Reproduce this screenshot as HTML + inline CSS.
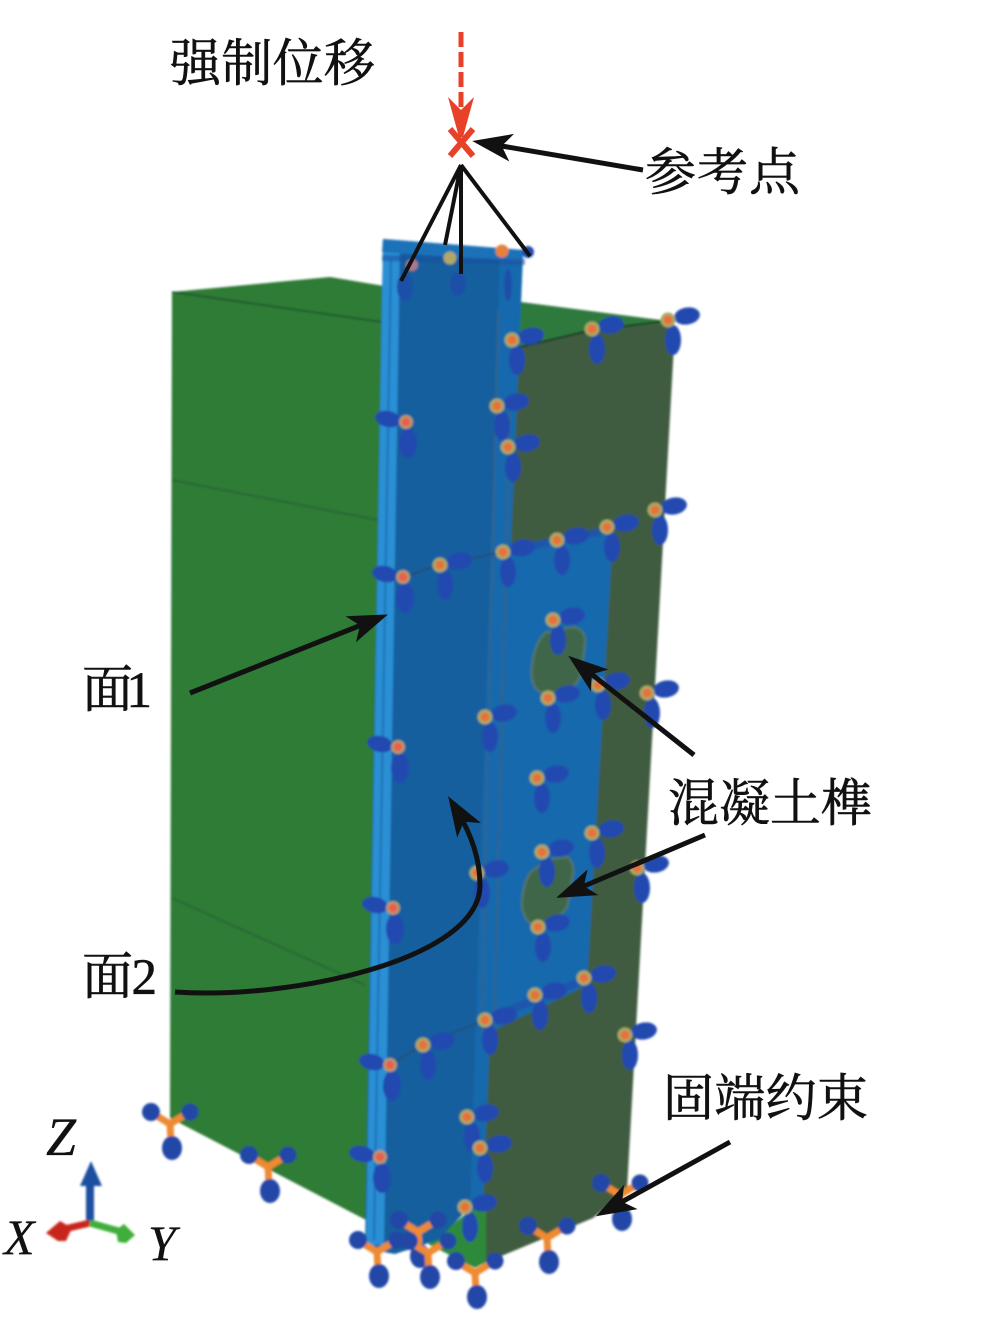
<!DOCTYPE html>
<html>
<head>
<meta charset="utf-8">
<style>
html,body{margin:0;padding:0;background:#fff;width:995px;height:1324px;overflow:hidden}
svg{display:block}
.t{font-family:"Liberation Serif","Noto Serif CJK SC",serif;font-size:51px;fill:#111;stroke:#111;stroke-width:.6}
.i{font-family:"Liberation Serif",serif;font-style:italic;fill:#111;stroke:#111;stroke-width:.3}
</style>
</head>
<body>
<svg width="995" height="1324" viewBox="0 0 995 1324" xmlns="http://www.w3.org/2000/svg">
<defs>
<filter id="b" x="-5%" y="-5%" width="110%" height="110%"><feGaussianBlur stdDeviation="1"/></filter>
<g id="a">
<ellipse cx="19" cy="-4" rx="13" ry="8.5" fill="#2148b0" transform="rotate(-10 19 -4)"/>
<ellipse cx="5" cy="20" rx="8" ry="15" fill="#2148b0"/>
<circle r="7.5" fill="#a9a866"/>
<circle r="4.5" fill="#e8703a"/>
</g>
<g id="c">
<ellipse cx="-18" cy="-3" rx="13" ry="8" fill="#2148b0" transform="rotate(12 -18 -3)"/>
<ellipse cx="2" cy="21" rx="9" ry="15" fill="#2148b0"/>
<circle r="7" fill="#b39a72"/>
<circle r="4.5" fill="#e8604c"/>
</g>
<g id="y">
<path d="M0 0L-13 -8M0 0L13 -8M0 0L1 17" stroke="#ee8a30" stroke-width="7" fill="none"/>
<circle cx="-19" cy="-12" r="9" fill="#2346a6"/>
<circle cx="20" cy="-12" r="8.5" fill="#2346a6"/>
<ellipse cx="2" cy="24" rx="10" ry="12" fill="#2346a6"/>
</g>
<marker id="h" markerUnits="userSpaceOnUse" markerWidth="44" markerHeight="36" refX="25" refY="16" orient="auto" viewBox="0 0 44 32">
<path d="M0 2L40 16L0 30L10 16Z" fill="#111"/>
</marker>
</defs>

<g filter="url(#b)">
<!-- left green body -->
<polygon points="172,292 330,277 390,287 390,1240 368,1221 170,1118" fill="#2d7b36"/>
<path d="M172,292L382,322" stroke="#1f4f2a" stroke-width="1.5" fill="none"/>
<path d="M172,480L378,520M172,898L365,985" stroke="#2a5f3a" stroke-width="1.5" fill="none"/>
<!-- right wall -->
<polygon points="520,302 660,320 675,326 627,1190 593,1218 482,1264 475,1266 470,1100 510,300" fill="#3f5b40"/>
<polygon points="520,302 660,320 672,323 592,330 516,348" fill="#2f7a3c"/>
<path d="M516,348L592,330L668,321" stroke="#1d3a24" stroke-width="2" fill="none"/>
<!-- small green triangle -->
<polygon points="428,1244 468,1212 486,1204 486,1262 475,1268" fill="#2f8a3a"/>
<!-- blue column -->
<polygon points="383,239 523,250 511,545 613,532 587,985 490,1032 483,1205 465,1212 438,1240 395,1254 372,1250 365,1245" fill="#125f9e"/>
<polygon points="500,255 523,255 511,545 613,532 587,985 490,1032 483,1205 470,1212" fill="#1969ad"/>
<!-- holes -->
<path d="M545,633L573,627Q586,630 585,643L580,677Q575,688 560,693L540,692Q530,685 532,667Q534,645 545,633Z" fill="#3f6648" stroke="#4f7468" stroke-width="2.5"/>
<path d="M547,860L567,857Q574,862 573,873L567,907Q560,917 547,922L530,923Q522,915 522,903Q523,885 530,873Z" fill="#3f6648" stroke="#4f7468" stroke-width="2.5"/>
<!-- light flange -->
<polygon points="383,239 400,241 384,1245 366,1245" fill="#2a8fd4"/>
<polygon points="383,239 523,250 522,262 382,252" fill="#1a72b8"/>
<path d="M391,260L374,1240" stroke="#1a72b4" stroke-width="2" fill="none"/>
<path d="M498,310L482,1032M510,400L494,1032" stroke="#33648a" stroke-width="2" fill="none"/>
<path d="M403,577L437,566L503,552M390,1065L423,1045L485,1020" stroke="#23507a" stroke-width="2" fill="none"/>
<path d="M503,552L608,530M485,1020L584,980M467,1117L480,1148" stroke="#1f55ad" stroke-width="8" fill="none" opacity=".85"/>
<path d="M382,258L525,262" stroke="#1f4f9e" stroke-width="6" fill="none" opacity=".55"/>

<!-- constraints -->
<use href="#a" x="512" y="340"/><use href="#a" x="592" y="329"/><use href="#a" x="668" y="320"/>
<use href="#a" x="497" y="406"/><use href="#c" x="406" y="422"/><use href="#a" x="508" y="447"/>
<use href="#a" x="655" y="510"/><use href="#a" x="607" y="527"/><use href="#a" x="557" y="540"/>
<use href="#a" x="503" y="552"/><use href="#a" x="440" y="565"/><use href="#c" x="403" y="577"/>
<use href="#a" x="553" y="620"/><use href="#a" x="548" y="698"/><use href="#a" x="598" y="685"/>
<use href="#a" x="647" y="693"/><use href="#a" x="485" y="717"/><use href="#c" x="398" y="747"/>
<use href="#a" x="537" y="778"/><use href="#a" x="592" y="833"/><use href="#a" x="542" y="852"/>
<use href="#a" x="637" y="868"/><use href="#a" x="477" y="873"/><use href="#c" x="393" y="908"/>
<use href="#a" x="538" y="927"/><use href="#a" x="584" y="978"/><use href="#a" x="535" y="995"/>
<use href="#a" x="485" y="1020"/><use href="#a" x="423" y="1045"/><use href="#c" x="390" y="1065"/>
<use href="#a" x="625" y="1035"/><use href="#a" x="467" y="1117"/><use href="#a" x="480" y="1148"/>
<use href="#c" x="380" y="1157"/><use href="#a" x="465" y="1207"/>
<!-- top edge markers -->
<ellipse cx="405" cy="287" rx="8" ry="14" fill="#1f4fa8"/>
<ellipse cx="458" cy="284" rx="8" ry="12" fill="#1f4fa8"/>
<ellipse cx="508" cy="285" rx="4" ry="16" fill="#1f4fa8"/>
<circle cx="528" cy="252" r="6" fill="#2148b0"/>
<circle cx="412" cy="265" r="6" fill="#a9788a"/>
<circle cx="450" cy="258" r="6.5" fill="#b0a868"/>
<circle cx="502" cy="251" r="6.5" fill="#e8803c"/>

<use href="#y" x="418" y="1232"/><use href="#y" x="377" y="1252"/><use href="#y" x="428" y="1253"/>
<use href="#y" x="475" y="1273"/><use href="#y" x="547" y="1238"/><use href="#y" x="620" y="1195"/>
<use href="#y" x="170" y="1124"/><use href="#y" x="268" y="1167"/>

<!-- axis triad -->
<path d="M90,1222V1180" stroke="#1f4fa0" stroke-width="8" fill="none"/>
<polygon points="80,1186 91,1161 102,1186" fill="#1f4fa0"/>
<path d="M90,1223L60,1230" stroke="#c8281e" stroke-width="7" fill="none"/>
<polygon points="46,1233 60,1221 72,1228 66,1241 58,1241" fill="#c8281e"/>
<path d="M90,1223L122,1232" stroke="#3fae3a" stroke-width="7" fill="none"/>
<polygon points="135,1235 124,1224 116,1230 118,1242 126,1243" fill="#3fae3a"/>
</g>

<!-- displacement -->
<path d="M461,32V108" stroke="#e8412a" stroke-width="5" stroke-dasharray="15 5" fill="none"/>
<polygon points="448,97 461,110 474,97 463,137 459,137" fill="#e8412a"/>
<path d="M450,129L473,156M473,129L450,156" stroke="#e8412a" stroke-width="6" fill="none"/>

<!-- coupling lines -->
<path d="M461,165L401,281M461,165L445,245M461,165V274M461,165L530,256" stroke="#111" stroke-width="4" fill="none"/>

<!-- leader arrows -->
<g stroke="#111" stroke-width="5" fill="none">
<path d="M643,170L487,143.5" marker-end="url(#h)"/>
<path d="M190,693L374,620" marker-end="url(#h)"/>
<path d="M694,755L580,665" marker-end="url(#h)"/>
<path d="M705,835L570,892" marker-end="url(#h)"/>
<path d="M730,1142L609,1209" marker-end="url(#h)"/>
<path d="M175,992C290,1000 480,960 480,885C480,860 472,835 456,809" marker-end="url(#h)"/>
</g>

<!-- labels -->
<text class="t" x="170" y="81" textLength="205">强制位移</text>
<text class="t" x="645" y="190" textLength="155">参考点</text>
<text class="t" x="82" y="707" textLength="70">面1</text>
<text class="t" x="82" y="994" textLength="75">面2</text>
<text class="t" x="668" y="821" textLength="204">混凝土榫</text>
<text class="t" x="663" y="1116" textLength="205">固端约束</text>
<text class="i" x="46" y="1155" style="font-size:54px">Z</text>
<text class="i" x="4" y="1254" style="font-size:50px">X</text>
<text class="i" x="148" y="1260" style="font-size:50px">Y</text>
</svg>
</body>
</html>
